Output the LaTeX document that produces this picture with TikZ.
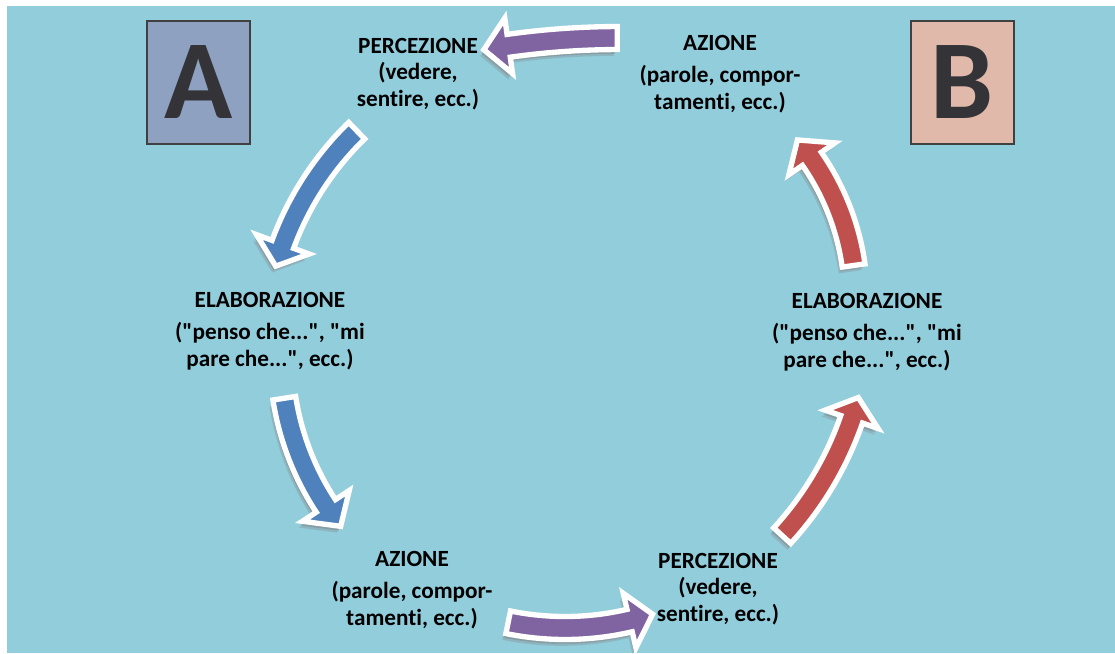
\documentclass[tikz,border=0pt]{standalone}
\usepackage{fontspec}
\setmainfont{Carlito}[Ligatures=NoCommon]
\usepackage{tikz}
\usetikzlibrary{positioning}
\usetikzlibrary{shadows}
\definecolor{sfondo}{HTML}{92CDDC}
\definecolor{bluA}{HTML}{4F81BD}
\definecolor{rossoB}{HTML}{C0504D}
\definecolor{viola}{HTML}{8064A2}
\definecolor{boxA}{HTML}{8EA1C1}
\definecolor{boxB}{HTML}{E0B9AA}
\definecolor{lettera}{HTML}{333338}
\newcommand\vir{\textquotedbl}
\tikzset{
	every node/.style = {font=\fontsize{16.5}{19}\selectfont\bfseries, align=center, inner sep=0pt},
	riquadro/.style = {draw=black!75, line width=1.5pt, minimum width=2.58cm, minimum height=3.08cm,
		text=lettera, font=\fontsize{80}{80}\selectfont\bfseries},
	freccia/.style = {draw=white, line width=3.8pt, line join=miter,
		drop shadow={shadow xshift=-2.5pt, shadow yshift=-4.5pt, opacity=.3},
		drop shadow={shadow xshift=-1.5pt, shadow yshift=-3pt, opacity=.45}}
}

\begin{document}
\begin{tikzpicture}[x=0.025cm, y=-0.025cm]
		\useasboundingbox (0,0) rectangle (1115,653);
		\fill[sfondo] (7,6) rectangle (1115,653);
		
		% persone
		\node[riquadro, fill=boxA] (boxA) at (198.5,82.5) {\raisebox{-3pt}{A}};
		\node[riquadro, fill=boxB] (boxB) at (962.5,82.5) {\raisebox{-3pt}{B}};
		
		% fasi A
		\node (percA) at (418,74) {PERCEZIONE\\(vedere,\\sentire, ecc.)};
		\node (elabA) at (270,331) {ELABORAZIONE\\[4pt](\vir penso che...\vir, \vir mi\\pare che...\vir, ecc.)};
		\node (azA) at (412,590) {AZIONE\\[4pt](parole, compor-\\tamenti, ecc.)};
		
		% fasi B
		\node (percB) at (718,589) {PERCEZIONE\\(vedere,\\sentire, ecc.)};
		\node (elabB) at (867,332) {ELABORAZIONE\\[4pt](\vir penso che...\vir, \vir mi\\pare che...\vir, ecc.)};
		\node (azB) at (720,74) {AZIONE\\[4pt](parole, compor-\\tamenti, ecc.)};
		
		% frecce: centro / raggio / coda / base punta / punta
		\foreach \cx/\cy/\r/\a/\b/\e/\col in {
			620/838/800/-90.2/-98/-99.8/viola,
			570/350/306/-134.2/-159.8/-164.1/bluA,
			554/356/273/171.1/146.7/141.4/bluA,
			565/343/285/101.5/76.9/72.1/viola,
			536/310/334/42.5/19.1/15.2/rossoB,
			608/300/248/-8/-34.7/-40.2/rossoB}
		{
			\pgfmathsetmacro\ro{\r+11.5}
			\pgfmathsetmacro\ri{\r-11.5}
			\pgfmathsetmacro\ho{\r+28}
			\pgfmathsetmacro\hi{\r-28}
			\begin{scope}[shift={(\cx,\cy)}]
				\draw[freccia, fill=\col] (\a:\ro) arc[start angle=\a, end angle=\b, radius=\ro]
					-- (\b:\ho) -- (\e:\r) -- (\b:\hi) -- (\b:\ri)
					arc[start angle=\b, end angle=\a, radius=\ri] -- cycle;
			\end{scope}
		}
	\end{tikzpicture}
\end{document}
